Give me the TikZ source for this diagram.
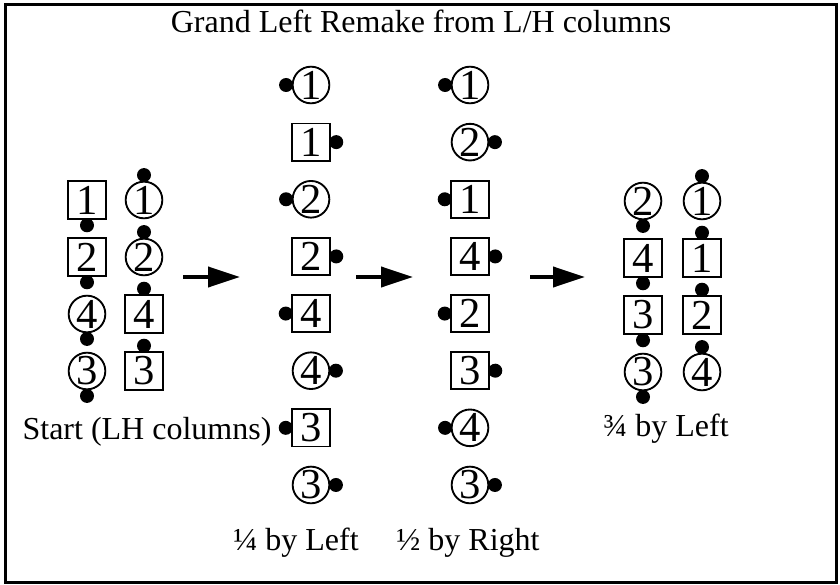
\documentclass[tikz,border=0pt]{standalone}
\usepackage{fontspec}
\setmainfont{Liberation Serif}
\usetikzlibrary{arrows.meta,positioning}

\begin{document}
\begin{tikzpicture}[
    x=0.75pt, y=-0.75pt,
    font=\fontsize{24}{28}\selectfont,
    node distance = -1.2pt,
    % --- node styles ---
    boy/.style  = {rectangle, draw, line width=1.4pt, minimum size=28pt,
                   inner sep=0pt, font=\fontsize{32}{32}\selectfont},
    girl/.style = {circle, draw, line width=1.4pt, minimum size=27.5pt,
                   inner sep=0pt, font=\fontsize{32}{32}\selectfont},
    nose/.style = {circle, fill, inner sep=0pt, minimum size=10.5pt},
    arrow/.style = {-{Triangle[length=24pt,width=15pt]}, line width=3pt},
    lbl/.style  = {anchor=base, inner sep=0pt},
]
\useasboundingbox (0,0) rectangle (840,585);
\draw[line width=2.25pt] (5,5) rectangle (836,582);

\node (title) [lbl] at (421,33) {Grand Left Remake from L/H columns};

%============ START (LH COLUMNS) ============
\foreach \shp/\num [count=\i] in {boy/1, boy/2, girl/4, girl/3}
{
  \node (sl\i) [\shp] at (87,{143+57*\i}) {\num};
  \node (nsl\i) [nose, below=of sl\i.south] {};
}
\foreach \shp/\num [count=\i] in {girl/1, girl/2, boy/4, boy/3}
{
  \node (sr\i) [\shp] at (144,{143+57*\i}) {\num};
  \node (nsr\i) [nose, above=of sr\i.north] {};
}
\node (startlbl) [lbl] at (147,439) {Start (LH columns)};

%============ QUARTER BY LEFT ============
\foreach \shp/\num/\dir/\anc [count=\i] in {girl/1/left/west, boy/1/right/east,
    girl/2/left/west, boy/2/right/east, boy/4/left/west, girl/4/right/east,
    boy/3/left/west, girl/3/right/east}
{
  \node (q\i) [\shp] at (311,{27.86+57.14*\i}) {\num};
  \node (nq\i) [nose, \dir=of q\i.\anc] {};
}
\node (qlbl) [lbl] at (296,550) {¼ by Left};

%============ HALF BY RIGHT ============
\foreach \shp/\num/\dir/\anc [count=\i] in {girl/1/left/west, girl/2/right/east,
    boy/1/left/west, boy/4/right/east, boy/2/left/west, boy/3/right/east,
    girl/4/left/west, girl/3/right/east}
{
  \node (h\i) [\shp] at (470,{27.86+57.14*\i}) {\num};
  \node (nh\i) [nose, \dir=of h\i.\anc] {};
}
\node (hlbl) [lbl] at (468,550) {½ by Right};

%============ THREE QUARTERS BY LEFT ============
\foreach \shp/\num [count=\i] in {girl/2, boy/4, boy/3, girl/3}
{
  \node (tl\i) [\shp] at (643,{144+57*\i}) {\num};
  \node (ntl\i) [nose, below=of tl\i.south] {};
}
\foreach \shp/\num [count=\i] in {girl/1, boy/1, boy/2, girl/4}
{
  \node (tr\i) [\shp] at (702,{144+57*\i}) {\num};
  \node (ntr\i) [nose, above=of tr\i.north] {};
}
\node (tlbl) [lbl] at (666,436) {¾ by Left};

%============ ARROWS ============
\foreach \n/\xa/\xb in {1/183/240, 2/356/413, 3/530/585}
{
  \coordinate (arr\n-s) at (\xa,277);
  \coordinate (arr\n-e) at (\xb,277);
  \draw[arrow] (arr\n-s) -- (arr\n-e);
}

\end{tikzpicture}
\end{document}
